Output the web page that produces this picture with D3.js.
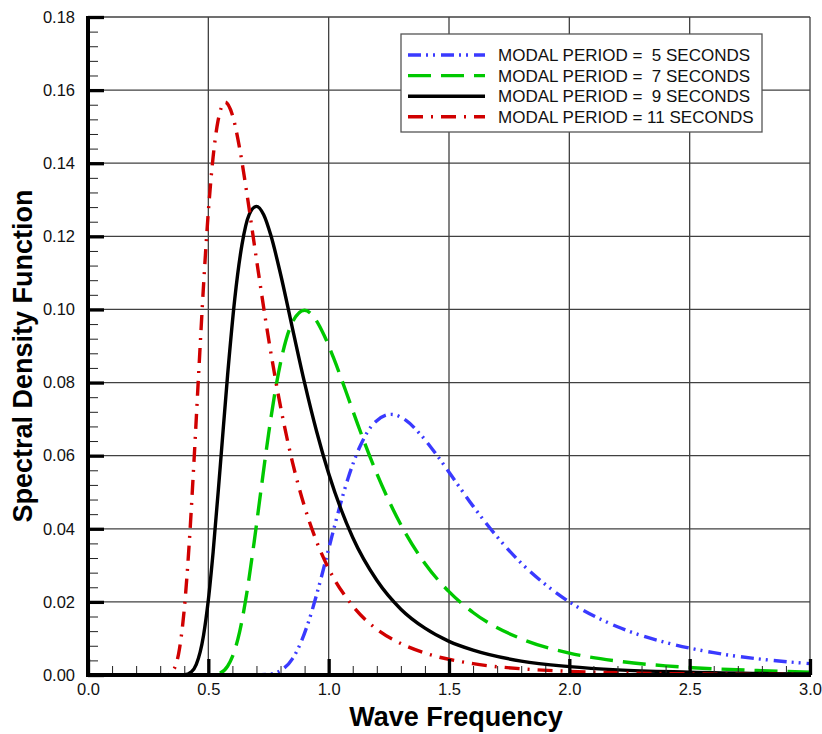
<!DOCTYPE html>
<html lang="en">
<head>
	<meta charset="UTF-8">
	<title>Spectral Density</title>
	<style>
		body { margin: 0; background: #fff; }
		text { font-family: Arial, "Liberation Sans", sans-serif; }
	</style>
</head>
<body>
	<svg width="822" height="734"></svg>

	<script src="https://d3js.org/d3.v7.min.js"></script>
	<script>
		// values
		var freqT5  = [0, 0.70, 0.75, 0.80, 0.85, 0.88, 0.92, 0.96, 1.0, 1.04, 1.08, 1.13, 1.19, 1.26, 1.32, 1.38, 1.45, 1.52, 1.6, 1.7, 1.8, 1.9, 2.0, 2.2, 2.4, 2.6, 2.8, 3.0];
		var specT5  = [0, 0, 0.0002, 0.0012, 0.0045, 0.0082, 0.0153, 0.0244, 0.0345, 0.0446, 0.0537, 0.0625, 0.0690, 0.0713, 0.0697, 0.0659, 0.0601, 0.0536, 0.0462, 0.0378, 0.0306, 0.0248, 0.0200, 0.0132, 0.0089, 0.0061, 0.0043, 0.0031];

		var freqT7  = [0, 0.50, 0.55, 0.58, 0.60, 0.63, 0.66, 0.69, 0.72, 0.75, 0.78, 0.81, 0.85, 0.90, 0.94, 0.98, 1.02, 1.07, 1.12, 1.2, 1.3, 1.4, 1.5, 1.6, 1.8, 2.0, 2.2, 2.4, 2.6, 2.8, 3.0];
		var specT7  = [0, 0, 0.0006, 0.0024, 0.0050, 0.0118, 0.0225, 0.0362, 0.0512, 0.0658, 0.0785, 0.0884, 0.0966, 0.0998, 0.0978, 0.0931, 0.0868, 0.0779, 0.0687, 0.0551, 0.0411, 0.0305, 0.0228, 0.0171, 0.0099, 0.0060, 0.0038, 0.0025, 0.0017, 0.0012, 0.0008];

		var freqT9  = [0, 0.40, 0.43, 0.45, 0.48, 0.50, 0.52, 0.55, 0.58, 0.61, 0.64, 0.67, 0.70, 0.73, 0.76, 0.80, 0.85, 0.90, 0.95, 1.0, 1.1, 1.2, 1.3, 1.4, 1.5, 1.6, 1.8, 2.0, 2.2, 2.5, 3.0];
		var specT9  = [0, 0.0001, 0.0009, 0.0029, 0.0108, 0.0205, 0.0337, 0.0575, 0.0820, 0.1030, 0.1178, 0.1260, 0.1282, 0.1259, 0.1202, 0.1097, 0.0947, 0.0799, 0.0666, 0.0551, 0.0376, 0.0259, 0.0180, 0.0128, 0.0092, 0.0068, 0.0038, 0.0023, 0.0014, 0.0008, 0.0003];

		var freqT11 = [0, 0.30, 0.33, 0.35, 0.38, 0.40, 0.42, 0.44, 0.46, 0.48, 0.50, 0.52, 0.54, 0.57, 0.60, 0.63, 0.66, 0.70, 0.75, 0.80, 0.85, 0.90, 0.95, 1.0, 1.1, 1.2, 1.3, 1.4, 1.6, 1.8, 2.0, 2.4, 3.0];
		var specT11 = [0, 0, 0.0001, 0.0009, 0.0071, 0.0180, 0.0354, 0.0580, 0.0827, 0.1065, 0.1267, 0.1418, 0.1515, 0.1567, 0.1532, 0.1441, 0.1318, 0.1137, 0.0921, 0.0734, 0.0581, 0.0460, 0.0365, 0.0291, 0.0189, 0.0125, 0.0086, 0.0060, 0.0031, 0.0017, 0.0010, 0.0004, 0.0001];

		var legendLabels = ["MODAL PERIOD =  5 SECONDS", "MODAL PERIOD =  7 SECONDS", "MODAL PERIOD =  9 SECONDS", "MODAL PERIOD = 11 SECONDS"];
		var xTicks = [0, 0.5, 1.0, 1.5, 2.0, 2.5, 3.0];
		var yTicks = [0, 0.02, 0.04, 0.06, 0.08, 0.10, 0.12, 0.14, 0.16, 0.18];

		var series = [
			{ x: freqT5,  y: specT5,  color: "#3a3aff", dash: "13,5,2,5,2,6" },
			{ x: freqT7,  y: specT7,  color: "#00c800", dash: "23,10" },
			{ x: freqT9,  y: specT9,  color: "#000000", dash: null },
			{ x: freqT11, y: specT11, color: "#d00000", dash: "15,8,2,8" }
		];

		var svg = d3.select("svg");
		var marge = {left: 88, right: 810, top: 17, bottom: 675};

		var xScale = d3.scaleLinear().domain([0, 3]).range([marge.left, marge.right]);
		var yScale = d3.scaleLinear().domain([0, 0.18]).range([marge.bottom, marge.top]);

		// grid
		var grid = svg.append("g");
		grid.selectAll(".vg").data(xTicks.slice(1)).enter().append("line")
			.attr("x1", d => xScale(d)).attr("x2", d => xScale(d))
			.attr("y1", marge.top).attr("y2", marge.bottom)
			.attr("stroke", "#404040").attr("stroke-width", 1.3);
		grid.selectAll(".hg").data(yTicks.slice(1)).enter().append("line")
			.attr("x1", marge.left).attr("x2", marge.right)
			.attr("y1", d => yScale(d)).attr("y2", d => yScale(d))
			.attr("stroke", "#404040").attr("stroke-width", 1.3);

		// curves
		var line = d3.line()
			.x(d => xScale(d[0]))
			.y(d => yScale(d[1]))
			.curve(d3.curveMonotoneX);

		series.forEach(function(s) {
			var pts = s.x.map((f, i) => [f, s.y[i]]);
			svg.append("path")
				.attr("d", line(pts))
				.attr("fill", "none")
				.attr("stroke", s.color)
				.attr("stroke-width", 3.4)
				.attr("stroke-dasharray", s.dash);
		});

		// minor ticks
		var yMinor = d3.range(0, 0.1801, 0.004);
		var xMinor = d3.range(0, 3.001, 0.1);

		svg.append("g")
			.attr("transform", "translate(" + marge.left + ",0)")
			.call(d3.axisLeft(yScale).tickValues(yMinor).tickSize(-10).tickFormat(""))
			.call(g => g.select(".domain").remove())
			.selectAll("line").attr("stroke", "#222").attr("stroke-width", 1);
		svg.append("g")
			.attr("transform", "translate(0," + marge.bottom + ")")
			.call(d3.axisBottom(xScale).tickValues(xMinor).tickSize(-9).tickFormat(""))
			.call(g => g.select(".domain").remove())
			.selectAll("line").attr("stroke", "#222").attr("stroke-width", 1);

		// major ticks with labels
		var yAxis = svg.append("g")
			.attr("transform", "translate(" + marge.left + ",0)")
			.call(d3.axisLeft(yScale).tickValues(yTicks).tickSize(-16).tickPadding(13).tickFormat(d3.format(".2f")));
		yAxis.select(".domain").remove();
		yAxis.selectAll("line").attr("stroke", "#000").attr("stroke-width", 3.3);
		yAxis.selectAll("text").attr("font-size", 16.5).attr("fill", "#111");

		var xAxis = svg.append("g")
			.attr("transform", "translate(0," + marge.bottom + ")")
			.call(d3.axisBottom(xScale).tickValues(xTicks).tickSize(-16).tickPadding(8).tickFormat(d3.format(".1f")));
		xAxis.select(".domain").remove();
		xAxis.selectAll("line").attr("stroke", "#000").attr("stroke-width", 3.3);
		xAxis.selectAll("text").attr("font-size", 16.5).attr("fill", "#111");

		// thick axis lines
		svg.append("line").attr("x1", marge.left).attr("x2", marge.left).attr("y1", marge.top - 1).attr("y2", marge.bottom + 2)
			.attr("stroke", "#000").attr("stroke-width", 4);
		svg.append("line").attr("x1", marge.left - 2).attr("x2", marge.right + 1).attr("y1", marge.bottom).attr("y2", marge.bottom)
			.attr("stroke", "#000").attr("stroke-width", 4);

		// axis titles
		svg.append("text")
			.attr("x", 456).attr("y", 726)
			.attr("text-anchor", "middle")
			.attr("font-size", 27).attr("font-weight", "bold")
			.text("Wave Frequency");
		svg.append("text")
			.attr("transform", "translate(32,356) rotate(-90)")
			.attr("text-anchor", "middle")
			.attr("font-size", 27).attr("font-weight", "bold")
			.text("Spectral Density Function");

		// legend
		var legend = svg.append("g");
		legend.append("rect")
			.attr("x", 401).attr("y", 34).attr("width", 361).attr("height", 98)
			.attr("fill", "#fff").attr("stroke", "#555").attr("stroke-width", 1.3);
		var rows = legend.selectAll(".row").data(series).enter().append("g")
			.attr("transform", (d, i) => "translate(0," + (55 + i * 20.6) + ")");
		rows.append("line")
			.attr("x1", 408).attr("x2", 485).attr("y1", 0).attr("y2", 0)
			.attr("stroke", d => d.color).attr("stroke-width", 3.4)
			.attr("stroke-dasharray", d => d.dash);
		rows.append("text")
			.attr("x", 498).attr("y", 6)
			.attr("font-size", 17).attr("fill", "#111")
			.style("white-space", "pre")
			.text((d, i) => legendLabels[i]);
	</script>
</body>
</html>
